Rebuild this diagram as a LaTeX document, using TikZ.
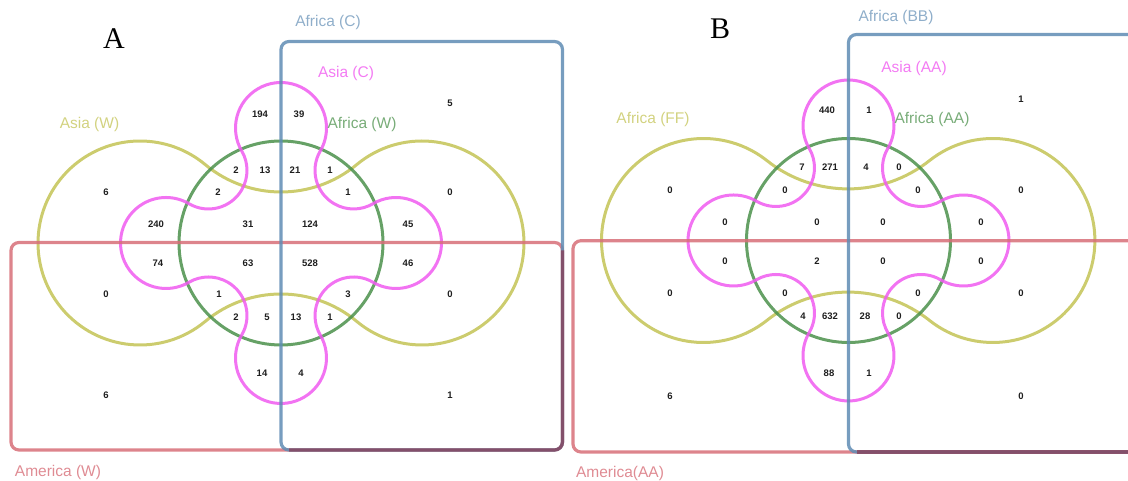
\documentclass[tikz,border=0pt]{standalone}
\usepackage{fontspec}
\setmainfont{Liberation Serif}
\setsansfont{Liberation Sans}
\usepackage{tikz}

\definecolor{setblue}{RGB}{95,140,180}
\definecolor{setred}{RGB}{215,110,120}
\definecolor{setboth}{RGB}{135,70,95}
\definecolor{setyellow}{RGB}{195,195,85}
\definecolor{setgreen}{RGB}{75,145,75}
\definecolor{setmag}{RGB}{240,90,240}
\definecolor{numtext}{RGB}{30,30,30}

% yellow dumbbell, green circle and four-lobed magenta set around (0,0)
% #1 = offset of the yellow circles, #2 = radius of the joining arcs, #3 = joining angle
\newcommand{\vennsets}[3]{%
  \draw[yellowset] (-#1,0) ++(#3:102)
    arc[start angle=180+#3, end angle=360-#3, radius=#2]
    arc[start angle=180-#3, end angle=#3-180, radius=102]
    arc[start angle=#3, end angle=180-#3, radius=#2]
    arc[start angle=-#3, end angle=#3-360, radius=102] -- cycle;
  \draw[greenset] (0,0) circle[radius=102];
  \draw[magset] (0,115) ++(210.32:45.5)
    arc[start angle=210.32, end angle=-30.32, radius=45.5]
    arc[start angle=149.68, end angle=300.32, radius=38.56]
    arc[start angle=120.32, end angle=-120.32, radius=45.5]
    arc[start angle=59.68, end angle=210.32, radius=38.56]
    arc[start angle=30.32, end angle=-210.32, radius=45.5]
    arc[start angle=-30.32, end angle=120.32, radius=38.56]
    arc[start angle=-59.68, end angle=-300.32, radius=45.5]
    arc[start angle=-120.32, end angle=30.32, radius=38.56] -- cycle;
}

\begin{document}
\begin{tikzpicture}[x=1pt, y=1pt,
  set/.style={line width=3pt, draw opacity=0.85},
  yellowset/.style={set, draw=setyellow},
  greenset/.style={set, draw=setgreen},
  magset/.style={set, draw=setmag},
  boxset/.style={line width=3.2pt, rounded corners=8pt, draw opacity=0.85},
  num/.style={font=\sffamily\bfseries\fontsize{9.5}{10}\selectfont, text=numtext, inner sep=0pt},
  lbl/.style={font=\sffamily\fontsize{15.5}{16}\selectfont, inner sep=0pt},
  panel/.style={font=\fontsize{30}{30}\selectfont, inner sep=0pt}]
\useasboundingbox (0,0) rectangle (1128,481);
\clip (0,0) rectangle (1128,481);

% --- panel A ---
\begin{scope}[shift={(281,238)}]
  \vennsets{141}{118.41}{50.23}
\end{scope}
\draw[boxset, draw=setred] (11,31) rectangle (562.5,238.5);
\draw[boxset, draw=setblue] (281,31) rectangle (562.5,439.5);
\draw[boxset, draw=setboth] (289,31) -- (562.5,31) -- (562.5,230.5);

\node[panel] (pA) at (114,442) {A};
\node[lbl, text=setblue!70] (africaC) at (328,459) {Africa (C)};
\node[lbl, text=setmag!80] (asiaC) at (346,408) {Asia (C)};
\node[lbl, text=setyellow!75] (asiaW) at (89.5,357) {Asia (W)};
\node[lbl, text=setgreen!75] (africaW) at (362,357) {Africa (W)};
\node[lbl, text=setred!80] (americaW) at (58,9) {America (W)};

\foreach \x/\y/\t [count=\i] in {
  260/114/194, 299/114/39, 450/103/5,
  236/170/2, 265/170/13, 295/170/21, 330/170/1,
  106/192/6, 218/192/2, 348/192/1, 450/192/0,
  156/224/240, 248/224/31, 310/224/124, 408/224/45,
  158/263/74, 248/263/63, 310/263/528, 408/263/46,
  106/294/0, 219/294/1, 348/294/3, 450/294/0,
  236/317/2, 267/317/5, 296/317/13, 330/317/1,
  262/373/14, 301/373/4,
  106/395/6, 450/395/1}
  \node[num] (a\i) at (\x,481-\y) {\t};

% --- panel B ---
\begin{scope}[shift={(848.5,240.5)}]
  \vennsets{145}{130.92}{51.59}
\end{scope}
\draw[boxset, draw=setred] (573,29) rectangle (1136,240.3);
\draw[boxset, draw=setblue] (848.5,29) rectangle (1136,446.5);
\draw[boxset, draw=setboth] (856.5,29) -- (1136,29);

\node[panel] (pB) at (720,452) {B};
\node[lbl, text=setblue!70] (africaBB) at (896,464) {Africa (BB)};
\node[lbl, text=setmag!80] (asiaAA) at (914,413) {Asia (AA)};
\node[lbl, text=setyellow!75] (africaFF) at (653,362) {Africa (FF)};
\node[lbl, text=setgreen!75] (africaAA) at (932,362) {Africa (AA)};
\node[lbl, text=setred!80] (americaAA) at (620,8) {America(AA)};

\foreach \x/\y/\t [count=\i] in {
  827/110/440, 869/110/1, 1021/99/1,
  802/167/7, 830/167/271, 866/167/4, 899/167/0,
  670/190/0, 785/190/0, 918/190/0, 1021/190/0,
  725/222/0, 817/222/0, 883/222/0, 981/222/0,
  725/261/0, 817/261/2, 883/261/0, 981/261/0,
  670/293/0, 785/293/0, 918/293/0, 1021/293/0,
  803/316/4, 830/316/632, 865/316/28, 899/316/0,
  829/373/88, 869/373/1,
  670/396/6, 1021/396/0}
  \node[num] (b\i) at (\x,481-\y) {\t};
\end{tikzpicture}
\end{document}
